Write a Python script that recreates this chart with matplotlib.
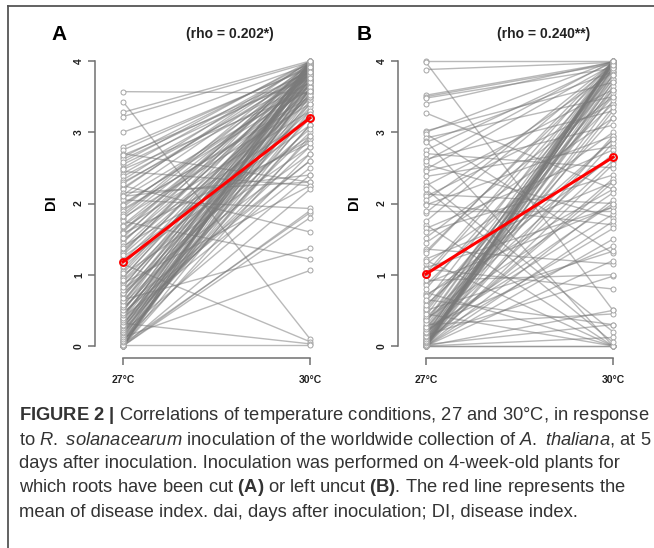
import matplotlib
matplotlib.use('Agg')
import matplotlib.pyplot as plt
from matplotlib import font_manager
from matplotlib.lines import Line2D

# disease index (DI) at 27 and 30 degrees, one (27, 30) pair per accession
cut_pairs = [
    (3.57, 3.55), (3.43, 0.10), (3.28, 4.00), (3.22, 3.98), (3.00, 3.95),
    (2.80, 3.90), (2.75, 3.92), (2.70, 2.30), (2.65, 3.97), (2.62, 3.85),
    (2.55, 3.80), (2.50, 3.95), (2.45, 2.25), (2.42, 3.88), (2.38, 3.75),
    (2.33, 3.99), (2.30, 3.70), (2.25, 1.60), (2.22, 3.93), (2.20, 4.00),
    (2.15, 2.30), (2.12, 3.90), (2.08, 3.65), (2.05, 1.93), (2.00, 3.60),
    (1.95, 3.85), (1.92, 3.45), (1.90, 3.50), (1.85, 3.98), (1.80, 3.40),
    (1.78, 3.82), (1.75, 1.22), (1.70, 3.80), (1.65, 3.30), (1.62, 3.94),
    (1.60, 3.90), (1.55, 3.75), (1.50, 3.20), (1.47, 3.66), (1.45, 3.95),
    (1.40, 2.90), (1.35, 3.60), (1.32, 3.87), (1.30, 4.00), (1.25, 3.10),
    (1.20, 3.70), (1.15, 0.06), (1.10, 3.50), (1.05, 3.85), (1.00, 2.80),
    (0.97, 3.72), (0.95, 3.90), (0.90, 3.30), (0.88, 2.25), (0.85, 3.65),
    (0.80, 2.70), (0.75, 3.95), (0.72, 3.58), (0.70, 3.40), (0.65, 1.37),
    (0.62, 3.99), (0.60, 3.80), (0.55, 2.60), (0.52, 3.35), (0.50, 3.55),
    (0.48, 3.90), (0.45, 3.00), (0.42, 3.70), (0.40, 2.50), (0.38, 4.00),
    (0.35, 3.20), (0.32, 0.03), (0.30, 3.85), (0.28, 2.90), (0.25, 3.60),
    (0.22, 3.95), (0.20, 2.40), (0.18, 3.75), (0.15, 3.10), (0.12, 1.06),
    (0.10, 3.90), (0.08, 2.70), (0.06, 3.45), (0.05, 3.50), (0.03, 1.87),
    (0.02, 0.02), (0.00, 3.80), (0.00, 2.20), (0.00, 1.90), (0.00, 4.00),
    (0.00, 3.25), (0.00, 2.95), (0.00, 3.62), (0.00, 1.80), (0.00, 3.95),
    (0.00, 3.70), (0.02, 3.88), (0.05, 3.98), (0.07, 3.60), (0.10, 3.30),
    (0.12, 3.78), (0.15, 3.92), (0.18, 3.40), (0.20, 3.68), (0.22, 3.10),
    (0.25, 3.83), (0.28, 3.96), (0.30, 3.55), (0.33, 2.80), (0.36, 3.74),
    (0.40, 3.90), (0.44, 3.50), (0.47, 2.60), (0.50, 3.84), (0.55, 3.97),
    (0.58, 3.25), (0.63, 3.62), (0.68, 3.86), (0.74, 3.05), (0.78, 3.78),
    (0.83, 3.93), (0.92, 3.52), (1.02, 3.74), (1.12, 3.96), (1.18, 2.95),
    (1.28, 3.58), (1.38, 3.80), (1.52, 3.98), (1.58, 2.85), (1.68, 3.64),
    (1.82, 3.92), (1.98, 3.70), (2.10, 2.40), (2.28, 3.84), (2.48, 3.58),
    (2.58, 4.00), (2.68, 3.76),
]
uncut_pairs = [
    (4.00, 4.00), (3.98, 0.50), (3.88, 3.98), (3.52, 3.98), (3.50, 3.96),
    (3.48, 3.90), (3.40, 3.99), (3.27, 2.20), (3.02, 3.70), (3.00, 4.00),
    (2.98, 1.30), (2.92, 3.50), (2.88, 0.00), (2.86, 3.85), (2.75, 3.98),
    (2.70, 2.50), (2.62, 3.30), (2.55, 1.80), (2.48, 3.95), (2.45, 3.10),
    (2.38, 2.80), (2.30, 0.20), (2.25, 3.60), (2.13, 2.00), (2.10, 3.40),
    (2.05, 3.84), (2.00, 1.70), (1.98, 2.95), (1.87, 3.98), (1.70, 0.00),
    (1.65, 2.75), (1.60, 2.40), (1.52, 3.50), (1.36, 1.15), (1.33, 3.92),
    (1.30, 4.00), (1.22, 2.30), (1.15, 3.00), (1.10, 1.95), (1.08, 0.80),
    (0.98, 3.90), (0.88, 1.95), (0.86, 3.40), (0.75, 0.00), (0.72, 2.20),
    (0.70, 2.65), (0.62, 4.00), (0.55, 3.60), (0.50, 1.33), (0.48, 3.75),
    (0.40, 2.90), (0.38, 2.15), (0.35, 3.95), (0.30, 0.45), (0.28, 3.80),
    (0.25, 3.20), (0.22, 1.85), (0.20, 4.00), (0.18, 2.60), (0.16, 3.98),
    (0.15, 0.98), (0.12, 3.85), (0.10, 1.65), (0.09, 3.70), (0.08, 3.55),
    (0.06, 2.35), (0.05, 2.30), (0.04, 3.96), (0.03, 4.00), (0.02, 0.30),
    (0.00, 3.90), (0.00, 2.85), (0.00, 1.75), (0.00, 0.00), (0.00, 3.98),
    (0.00, 1.20), (0.00, 2.05), (0.00, 3.65), (0.00, 0.12), (0.00, 2.95),
    (0.00, 4.00), (0.00, 0.50), (0.00, 3.45), (0.00, 1.50), (0.00, 3.30),
    (0.00, 2.55), (0.00, 0.00), (0.00, 3.75), (0.00, 4.00), (0.00, 3.92),
    (0.01, 3.80), (0.02, 3.98), (0.04, 3.60), (0.05, 4.00), (0.07, 3.88),
    (0.10, 3.95), (0.12, 3.35), (0.14, 4.00), (0.18, 3.70), (0.20, 2.00),
    (0.24, 3.90), (0.27, 1.40), (0.32, 3.98), (0.36, 2.70), (0.42, 4.00),
    (0.45, 0.00), (0.52, 3.50), (0.58, 2.90), (0.65, 0.30), (0.80, 3.80),
    (0.92, 1.00), (1.02, 4.00), (1.20, 0.00), (1.45, 3.20), (1.75, 3.95),
    (1.90, 1.90), (2.20, 0.05), (2.60, 4.00),
]
cut_mean = [1.18, 3.20]
uncut_mean = [1.01, 2.65]
temps = ['27°C', '30°C']
di_ticks = [0, 1, 2, 3, 4]
panel_letters = ['A', 'B']
rho_titles = ['(rho = 0.202*)', '(rho = 0.240**)']
caption_lines = [
    r'$\mathbf{FIGURE}$ $\mathbf{2}$ $\mathbf{|}$ Correlations of temperature conditions, 27 and 30°C, in response',
    r'to $\mathit{R.}$ $\mathit{solanacearum}$ inoculation of the worldwide collection of $\mathit{A.}$ $\mathit{thaliana}$, at 5',
    'days after inoculation. Inoculation was performed on 4-week-old plants for',
    r'which roots have been cut $\mathbf{(A)}$ or left uncut $\mathbf{(B)}$. The red line represents the',
    'mean of disease index. dai, days after inoculation; DI, disease index.',
]

names = {f.name for f in font_manager.fontManager.ttflist}
cap_font = 'Liberation Sans Narrow' if 'Liberation Sans Narrow' in names else 'Liberation Sans'
plt.rcParams['mathtext.fontset'] = 'custom'
plt.rcParams['mathtext.rm'] = cap_font
plt.rcParams['mathtext.it'] = cap_font + ':italic'
plt.rcParams['mathtext.bf'] = cap_font + ':bold'

W, H = 654, 548
fig = plt.figure(figsize=(W / 100, H / 100), dpi=100)


def px(x, y):
    return x / W, 1 - y / H


panels = [(cut_pairs, cut_mean, 95), (uncut_pairs, uncut_mean, 398)]
for i, (pairs, mean, left) in enumerate(panels):
    ax = fig.add_axes([left / W, 1 - 358 / H, 235 / W, 303 / H])
    for a, b in pairs:
        ax.plot([0, 1], [a, b], color='#7a7a7a', alpha=0.52, lw=1.0)
    for a, b in pairs:
        ax.plot([0, 1], [a, b], ls='none', marker='o', ms=3.6, mfc='white',
                mec='#a5a5a5', mew=0.7)
    ax.plot([0, 1], mean, color='#ff0000', lw=2.2, marker='o', ms=5,
            mfc='none', mec='#ff0000', mew=1.4, zorder=5)

    ax.set_xlim(-28 / 187, 1 + 20 / 187)
    ax.set_ylim(-12 / 71.25, 4 + 6 / 71.25)
    for s in ['top', 'right']:
        ax.spines[s].set_visible(False)
    ax.spines['left'].set_bounds(0, 4)
    ax.spines['bottom'].set_bounds(0, 1)
    for s in ['left', 'bottom']:
        ax.spines[s].set_color('#707070')
        ax.spines[s].set_linewidth(1.1)
    ax.set_yticks(di_ticks)
    ax.set_yticklabels([str(t) for t in di_ticks], rotation=90, va='center',
                       fontsize=7.5, fontweight='bold', family='Liberation Sans')
    ax.set_xticks([0, 1])
    ax.set_xticklabels(temps, fontsize=7.5, fontweight='bold', family='Liberation Sans')
    ax.tick_params(axis='y', direction='out', length=5, width=1.1, color='#707070',
                   pad=3, labelcolor='#222222')
    ax.tick_params(axis='x', direction='out', length=5, width=1.1, color='#707070',
                   pad=7, labelcolor='#222222')
    ax.patch.set_visible(False)

    fig.text(*px([59, 364][i], 35), panel_letters[i], fontsize=15, fontweight='bold',
             family='Liberation Sans', ha='center', va='center')
    fig.text(*px([230, 544][i], 34), rho_titles[i], fontsize=10, fontweight='bold',
             family='Liberation Sans', ha='center', va='center', color='#222222')
    fig.text(*px([51, 354][i], 203), 'DI', fontsize=10.5, fontweight='bold', rotation=90,
             family='Liberation Sans', ha='center', va='center')

# frame of the figure box
fig.add_artist(Line2D([8 / W, 1], [1 - 6 / H, 1 - 6 / H], color='#555555', lw=1.3))
fig.add_artist(Line2D([8 / W, 8 / W], [1 - 6 / H, 0], color='#555555', lw=1.3))

# caption, sized so the first line fills the box width
renderer = fig.canvas.get_renderer()
probe = fig.text(0, 0, caption_lines[0], fontsize=12, family=cap_font)
w0 = probe.get_window_extent(renderer).width
probe.remove()
cap_size = 12 * 628 / w0
for k, line in enumerate(caption_lines):
    fig.text(*px(19, 415 + 24.3 * k), line, fontsize=cap_size, family=cap_font,
             ha='left', va='center', color='#333333')

fig.savefig('out.png', dpi=100)
